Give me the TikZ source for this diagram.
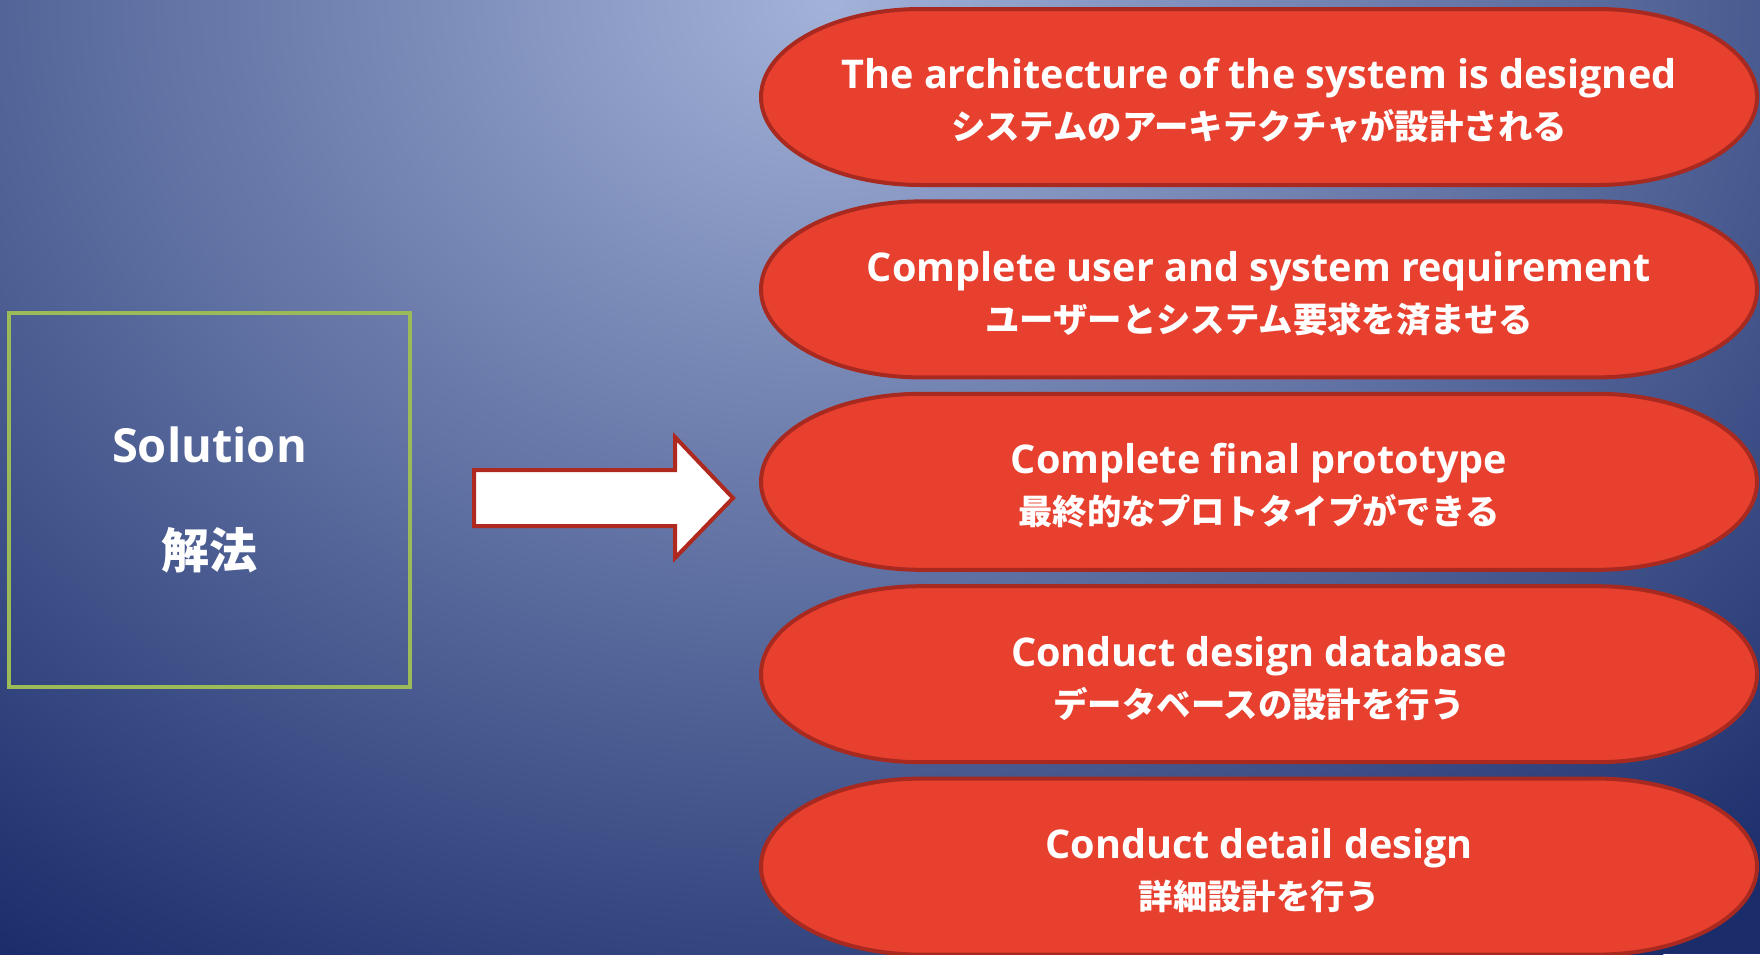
\documentclass[tikz,border=0pt]{standalone}
\usepackage{fontspec}
\setmainfont{Open Sans}
\newfontfamily\jp{Noto Sans CJK JP}
\definecolor{bgIn}{HTML}{A2B2D8}
\definecolor{bgOut}{HTML}{1A2C6A}
\definecolor{boxgreen}{HTML}{9BBB59}
\definecolor{termfill}{HTML}{E8402F}
\definecolor{termline}{HTML}{A8291F}
\definecolor{arrowline}{HTML}{B0291F}
\pgfdeclareradialshading{bgshade}{\pgfpoint{0bp}{0bp}}{color(0bp)=(bgIn); color(25bp)=(bgOut); color(50bp)=(bgOut)}
\tikzset{
  solbox/.style={draw=boxgreen, line width=2pt, minimum width=200.5pt, minimum height=187pt,
    inner sep=0pt, text=white, align=center, font=\bfseries\fontsize{23.5}{53}\selectfont},
  termshape/.style={fill=termfill, draw=termline, line width=2pt},
  termtext/.style={text=white, align=center, inner sep=0pt, font=\bfseries\fontsize{19.8}{25.5}\selectfont},
  blockarrow/.style={fill=white, draw=arrowline, line width=2pt, line join=miter},
}
\begin{document}
\begin{tikzpicture}[x=0.5pt,y=-0.5pt]
% background
\fill[bgOut] (0,0) rectangle (1760,954);
\begin{scope}
  \clip (0,0) rectangle (1760,954);
  \shade[shading=bgshade] (830,0) ellipse [x radius=713pt, y radius=588pt];
\end{scope}
% left box
\node[solbox] (sol) at (209.5,500) {Solution\\{\jp\fontsize{24}{53}\selectfont 解法}};
% block arrow
\draw[blockarrow] (474,470) -- (675,470) -- (675,437) -- (733,498) -- (675,558) -- (675,526) -- (474,526) -- cycle;
% terminator shapes
\foreach \i/\en/\ja in {
  0/The architecture of the system is designed/システムのアーキテクチャが設計される,
  1/Complete user and system requirement/ユーザーとシステム要求を済ませる,
  2/Complete final prototype/最終的なプロトタイプができる,
  3/Conduct design database/データベースの設計を行う,
  4/Conduct detail design/詳細設計を行う}{
  \pgfmathsetmacro\T{9+192.4*\i}
  \draw[termshape] (921,\T) -- (1597,\T)
    arc[start angle=90, end angle=-90, x radius=80pt, y radius=44pt]
    -- (921,\T+176)
    arc[start angle=270, end angle=90, x radius=80pt, y radius=44pt] -- cycle;
  \node[termtext] (e\i) at (1259,\T+92) {\en\\{\jp\fontsize{17.2}{25.5}\selectfont\ja}};
}
\pgfresetboundingbox
\useasboundingbox (0,0) rectangle (1760,954);
\end{tikzpicture}
\end{document}
